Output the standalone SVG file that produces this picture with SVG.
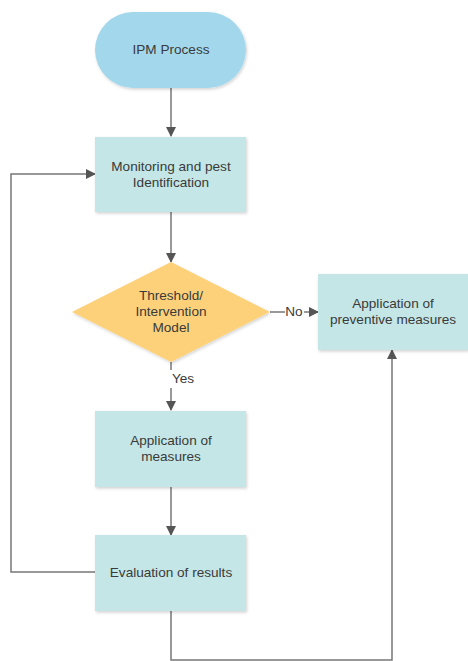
<svg xmlns="http://www.w3.org/2000/svg" width="468" height="661" viewBox="0 0 468 661">
<defs>
<style>
.box{fill:#c4e6e6;}
.t{font-family:"Liberation Sans",Arial,sans-serif;font-size:13.6px;fill:#3a3a3a;text-anchor:middle;}
.c{fill:none;stroke:#777;stroke-width:1.5;}
</style>
<marker id="ah" markerWidth="10" markerHeight="10" refX="9" refY="5" orient="auto" markerUnits="userSpaceOnUse">
<path d="M0,0 L10,5 L0,10 Z" fill="#555"/>
</marker>
<filter id="sh" x="-10%" y="-10%" width="125%" height="130%">
<feDropShadow dx="1" dy="1.5" stdDeviation="1.5" flood-color="#000" flood-opacity="0.18"/>
</filter>
</defs>
<rect width="468" height="661" fill="#fff"/>
<g id="connectors">
<line class="c" x1="171" y1="88" x2="171" y2="136" marker-end="url(#ah)"/>
<line class="c" x1="171" y1="212" x2="171" y2="262" marker-end="url(#ah)"/>
<polyline class="c" points="270,312 285,312"/>
<line class="c" x1="304" y1="312" x2="318" y2="312" marker-end="url(#ah)"/>
<polyline class="c" points="171,362 171,370"/>
<line class="c" x1="171" y1="388" x2="171" y2="410" marker-end="url(#ah)"/>
<line class="c" x1="171" y1="487" x2="171" y2="535" marker-end="url(#ah)"/>
<polyline class="c" points="95,572 11,572 11,174 95,174" marker-end="url(#ah)"/>
<polyline class="c" points="171,611 171,660 392,660 392,350" marker-end="url(#ah)"/>
<text class="t" x="294" y="316">No</text>
<text class="t" x="183" y="383">Yes</text>
</g>
<g id="start">
<rect x="95" y="12" width="151" height="76" rx="38" ry="38" fill="#a3d8ec" filter="url(#sh)"/>
<text class="t" x="171" y="54">IPM Process</text>
</g>
<g id="monitoring">
<rect class="box" x="95" y="137" width="151" height="75" filter="url(#sh)"/>
<text class="t" x="171" y="171">Monitoring and pest</text>
<text class="t" x="171" y="187">Identification</text>
</g>
<g id="threshold">
<polygon points="171,262 270,312 171,362 72,312" fill="#fdd17a" filter="url(#sh)"/>
<text class="t" x="171" y="300">Threshold/</text>
<text class="t" x="171" y="316">Intervention</text>
<text class="t" x="171" y="332">Model</text>
</g>
<g id="preventive">
<rect class="box" x="318" y="274" width="150" height="76" filter="url(#sh)"/>
<text class="t" x="393" y="308">Application of</text>
<text class="t" x="393" y="324">preventive measures</text>
</g>
<g id="measures">
<rect class="box" x="95" y="411" width="151" height="76" filter="url(#sh)"/>
<text class="t" x="171" y="445">Application of</text>
<text class="t" x="171" y="461">measures</text>
</g>
<g id="evaluation">
<rect class="box" x="95" y="535" width="151" height="76" filter="url(#sh)"/>
<text class="t" x="171" y="577">Evaluation of results</text>
</g>
</svg>
